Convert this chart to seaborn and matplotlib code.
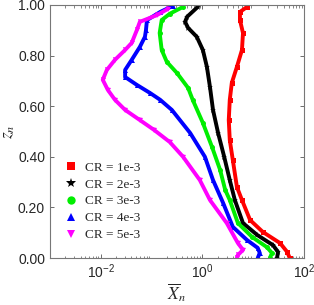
import numpy as np
import pandas as pd
import matplotlib
matplotlib.use('Agg')
import matplotlib.pyplot as plt
from matplotlib.lines import Line2D
from matplotlib.ticker import FixedLocator, LogLocator, NullFormatter
import seaborn as sns

# values (x given as log10)
labels = ['CR = 1e-3', 'CR = 2e-3', 'CR = 3e-3', 'CR = 4e-3', 'CR = 5e-3']
colors = ['red', 'black', '#00ee00', 'blue', 'magenta']
markers = ['s', '*', 'o', '^', 'v']

z_red = [0.992, 0.972, 0.94, 0.889, 0.822, 0.755, 0.692, 0.625, 0.545, 0.466, 0.387, 0.281, 0.229, 0.15, 0.103, 0.059, 0.024, 0.0]
lx_red = [0.88, 0.74, 0.74, 0.80, 0.78, 0.68, 0.58, 0.54, 0.52, 0.54, 0.60, 0.68, 0.78, 0.94, 1.19, 1.53, 1.67, 1.72]

z_black = [0.992, 0.953, 0.933, 0.909, 0.874, 0.822, 0.755, 0.676, 0.585, 0.494, 0.40, 0.308, 0.229, 0.138, 0.091, 0.051, 0.024, 0.0]
lx_black = [-0.09, -0.30, -0.34, -0.28, -0.11, 0.01, 0.09, 0.15, 0.21, 0.31, 0.43, 0.54, 0.64, 0.80, 1.08, 1.39, 1.49, 1.47]

z_green = [0.992, 0.965, 0.94, 0.889, 0.822, 0.775, 0.731, 0.672, 0.625, 0.534, 0.439, 0.348, 0.269, 0.229, 0.138, 0.083, 0.043, 0.02, 0.0]
lx_green = [-0.38, -0.64, -0.80, -0.84, -0.80, -0.70, -0.50, -0.28, -0.19, 0.01, 0.19, 0.35, 0.45, 0.54, 0.70, 0.98, 1.27, 1.37, 1.33]

z_blue = [0.996, 0.972, 0.94, 0.90, 0.874, 0.834, 0.783, 0.743, 0.715, 0.684, 0.652, 0.625, 0.585, 0.494, 0.40, 0.308, 0.217, 0.123, 0.071, 0.04, 0.02, 0.0]
lx_blue = [-0.58, -0.83, -1.09, -1.11, -1.13, -1.23, -1.39, -1.52, -1.52, -1.29, -1.03, -0.83, -0.60, -0.24, 0.05, 0.21, 0.41, 0.60, 0.88, 1.09, 1.13, 1.09]

z_mag = [0.984, 0.96, 0.933, 0.90, 0.85, 0.822, 0.783, 0.743, 0.704, 0.664, 0.625, 0.585, 0.545, 0.506, 0.458, 0.40, 0.308, 0.229, 0.138, 0.059, 0.032, 0.012, 0.0]
lx_mag = [-0.68, -0.89, -1.23, -1.29, -1.39, -1.52, -1.72, -1.88, -1.96, -1.86, -1.72, -1.52, -1.23, -0.95, -0.64, -0.38, -0.05, 0.15, 0.48, 0.70, 0.80, 0.70, 0.68]

series = [(z_red, lx_red), (z_black, lx_black), (z_green, lx_green), (z_blue, lx_blue), (z_mag, lx_mag)]

frames = []
for lab, (z, lx) in zip(labels, series):
    frames.append(pd.DataFrame({'x': 10.0 ** np.array(lx), 'z': z, 'CR': lab}))
df = pd.concat(frames, ignore_index=True)

sns.set_theme(style='ticks')
plt.rcParams['font.family'] = ['Liberation Sans', 'DejaVu Sans']
plt.rcParams['mathtext.fontset'] = 'stix'

fig = plt.figure(figsize=(3.14, 3.05), dpi=100)
ax = fig.add_axes([0.159, 0.154, 0.809, 0.830])

for lab, col, mk in zip(labels, colors, markers):
    sub = df[df['CR'] == lab]
    sns.lineplot(data=sub, x='x', y='z', sort=False, estimator=None, color=col,
                 marker=mk, markersize=3.6 if mk != '*' else 4.5, markeredgewidth=0,
                 linewidth=2.8, ax=ax, legend=False)

ax.set_xscale('log')
ax.set_xlim(1e-3, 1e2)
ax.set_ylim(0, 1)
ax.xaxis.set_major_locator(FixedLocator([1e-2, 1e0, 1e2]))
ax.xaxis.set_minor_locator(LogLocator(base=10, subs=np.arange(2, 10)))
ax.xaxis.set_minor_formatter(NullFormatter())
ax.set_yticks([0, 0.2, 0.4, 0.6, 0.8, 1.0])
ax.set_yticklabels(['0.00', '0.20', '0.40', '0.60', '0.80', '1.00'])

ax.tick_params(which='both', direction='in', top=True, right=True, colors='#555555',
               labelcolor='#262626', labelsize=10)
ax.tick_params(which='major', length=3, width=0.6)
ax.tick_params(which='minor', length=1.8, width=0.5)
for s in ax.spines.values():
    s.set_color('#777777')
    s.set_linewidth(0.8)

ax.set_xlabel(r'$\overline{X}_n$', fontsize=12.5, color='#262626', labelpad=0)
ax.set_ylabel(r'$z_n$', fontsize=12.5, color='#262626', labelpad=1)

handles = [Line2D([], [], linestyle='none', marker=mk, color=col,
                  markersize=6 if mk != '*' else 7, markeredgewidth=0)
           for col, mk in zip(colors, markers)]
ax.legend(handles, labels, loc='lower left', bbox_to_anchor=(0.02, 0.03), frameon=False,
          prop={'family': 'Liberation Serif', 'size': 9.5}, handlelength=1.0,
          handletextpad=0.6, labelspacing=0.35, borderaxespad=0.3)

fig.savefig('out.png', dpi=100)
